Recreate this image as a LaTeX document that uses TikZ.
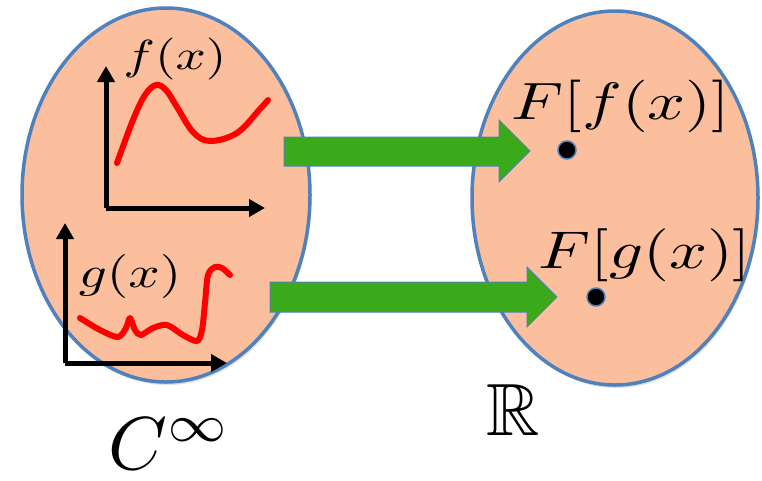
\documentclass[tikz,border=0pt]{standalone}
\usepackage{amssymb}
\usepackage{graphicx}
\usetikzlibrary{shapes.geometric,arrows.meta,shadows}
\definecolor{peach}{HTML}{FBBF9D}
\definecolor{setblue}{HTML}{4F81BD}
\definecolor{arrgreen}{HTML}{3AAA1A}
\tikzset{
  setell/.style={ellipse, draw=setblue, line width=3.5pt, fill=peach, inner sep=0pt,
    drop shadow={opacity=0.25, shadow xshift=1.5pt, shadow yshift=-3pt}},
  axis/.style={line width=5pt, -{Triangle[width=17pt,length=16pt]}},
  curve/.style={red, line width=6pt, line cap=round, line join=round},
  blockarr/.style={fill=arrgreen, draw=setblue, line width=1pt, line join=miter},
  pt/.style={circle, fill=black, draw=setblue, line width=1.5pt, minimum size=18pt, inner sep=0pt},
  lbl/.style={inner sep=0pt}
}
\begin{document}
\begin{tikzpicture}[x=1pt,y=-1pt]
\useasboundingbox (0,0) rectangle (762,480);
% sets
\node[setell, minimum width=288pt, minimum height=374pt] (Cset) at (166,195) {};
\node[setell, minimum width=286pt, minimum height=374pt] (Rset) at (615,198) {};
% f axes
\coordinate (fo) at (106,208);
\coordinate (fy) at (106,66);
\coordinate (fx) at (265,208);
\draw[axis] (fo) -- (fy);
\draw[axis] (fo) -- (fx);
% g axes
\coordinate (go) at (65,363);
\coordinate (gy) at (65,223);
\coordinate (gx) at (227,363);
\draw[axis] (go) -- (gy);
\draw[axis] (go) -- (gx);
% f curve
\draw[curve] plot[smooth, tension=0.6] coordinates {(117,163) (133,120) (145,95) (156,85) (166,90) (177,107) (193,132) (210,141) (237,133) (260,109) (268,100)};
% g curve
\draw[curve] plot[smooth, tension=0.5] coordinates {(80,318) (100,330) (118,337) (126,328) (130,318) (135,330) (141,335) (153,328) (167,325) (183,335) (197,341) (202,330) (205,303) (208,275) (215,267) (222,268) (230,275)};
% labels
\node[lbl] (flab) at (175,59) {\scalebox{5.3}[4.2]{$f(x)$}};
\node[lbl] (glab) at (130,276) {\scalebox{5.5}[4.4]{$g(x)$}};
\node[lbl] (Fflab) at (621,106) {\scalebox{6.65}[5.25]{$F[f(x)]$}};
\node[lbl] (Fglab) at (645,255) {\scalebox{6.65}[5.3]{$F[g(x)]$}};
\node[lbl, anchor=base west] (Cinf) at (108,469) {\scalebox{7.5}{$C^\infty$}};
\node[lbl, anchor=base west] (Rlab) at (486,435) {\scalebox{7.4}{$\mathbb{R}$}};
% points
\node[pt] (Ff) at (567,150) {};
\node[pt] (Fg) at (596,297) {};
% block arrows
\draw[blockarr] (284,137) -- (499,137) -- (499,120) -- (530,151) -- (499,182) -- (499,166) -- (284,166) -- cycle;
\draw[blockarr] (270,282) -- (527,282) -- (527,267) -- (557,297) -- (527,327) -- (527,312) -- (270,312) -- cycle;
\end{tikzpicture}
\end{document}
